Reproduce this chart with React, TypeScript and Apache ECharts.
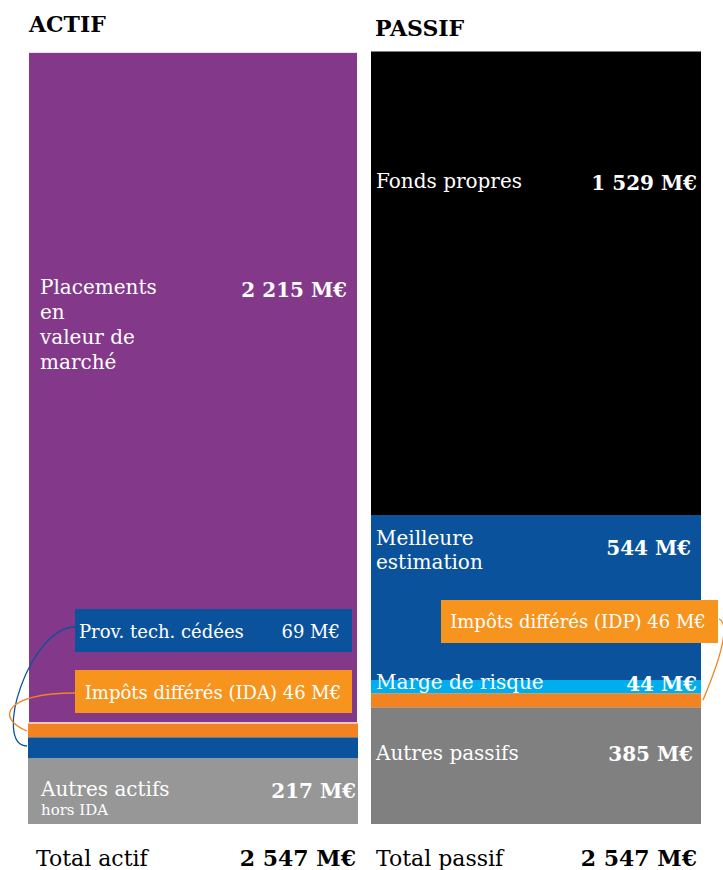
import React, { useEffect, useRef } from "react";
import * as echarts from "echarts";

const categories = ["ACTIF", "PASSIF"];
const actifNames = ["Autres actifs", "Prov. tech. cédées", "Impôts différés (IDA)", "Placements en valeur de marché"];
const actifValues = [217, 69, 46, 2215];
const passifNames = ["Autres passifs", "Impôts différés (IDP)", "Marge de risque", "Meilleure estimation", "Fonds propres"];
const passifValues = [385, 46, 44, 544, 1529];
const totalLabels = ["Total actif", "Total passif"];
const totalValues = [2547, 2547];

const actifColors = ["#979797", "#0a529c", "#f38321", "#843889"];
const passifColors = ["#808080", "#f38321", "#00aeef", "#0a529c", "#000000"];

const fmt = (v: number) => v.toString().replace(/\B(?=(\d{3})+(?!\d))/g, " ") + " M€";

const SERIF = '"DejaVu Serif", serif';

export default function App() {
  const ref = useRef<HTMLDivElement>(null);
  useEffect(() => {
    document.body.style.margin = "0";
    const chart = echarts.init(ref.current!, null, { renderer: "svg" });
    const series: any[] = [];
    actifNames.forEach((n, i) => {
      series.push({
        name: n,
        type: "bar",
        stack: "bilan",
        barWidth: 330,
        data: [actifValues[i], "-"],
        itemStyle: i === 3 ? { color: actifColors[i], borderColor: "#ffffff", borderWidth: 1 } : { color: actifColors[i] },
      });
    });
    passifNames.forEach((n, i) => {
      series.push({
        name: n,
        type: "bar",
        stack: "bilan",
        barWidth: 330,
        data: ["-", passifValues[i]],
        itemStyle: { color: passifColors[i] },
      });
    });

    const white = "#ffffff";
    const txt = (text: string, x: number, y: number, size: number, opts: any = {}) => ({
      type: "text",
      z: 10,
      style: {
        text,
        x,
        y,
        fill: opts.fill || white,
        fontSize: size,
        fontFamily: SERIF,
        fontWeight: opts.bold ? "bold" : "normal",
        align: opts.align || "left",
        verticalAlign: opts.va || "middle",
        lineHeight: opts.lh,
      },
    });

    const graphic: any[] = [
      txt(categories[0], 29, 24, 22, { bold: true, fill: "#000" }),
      txt(categories[1], 375, 28, 22, { bold: true, fill: "#000" }),
      // actif labels
      txt("Placements\nen\nvaleur de\nmarché", 40, 274, 20, { va: "top", lh: 25 }),
      txt(fmt(actifValues[3]), 347, 290, 20, { bold: true, align: "right" }),
      txt("Autres actifs", 41, 789, 20),
      txt("hors IDA", 41, 810, 15),
      txt(fmt(actifValues[0]), 356, 791, 20, { bold: true, align: "right" }),
      // boxes actif
      { type: "rect", z: 9, shape: { x: 75, y: 609, width: 277, height: 43 }, style: { fill: "#0a529c" } },
      txt(actifNames[1], 79, 631, 18),
      txt(fmt(actifValues[1]), 340, 631, 18, { align: "right" }),
      { type: "rect", z: 9, shape: { x: 75, y: 670, width: 277, height: 43 }, style: { fill: "#f7941e" } },
      txt(actifNames[2] + " " + fmt(actifValues[2]), 213, 692, 18, { align: "center" }),
      {
        type: "bezierCurve", z: 11,
        shape: { x1: 75, y1: 627, cpx1: 30, cpy1: 627, cpx2: -8, cpy2: 745, x2: 27, y2: 746 },
        style: { stroke: "#0a529c", lineWidth: 1.3, fill: "none" },
      },
      {
        type: "bezierCurve", z: 11,
        shape: { x1: 75, y1: 693, cpx1: 5, cpy1: 693, cpx2: -5, cpy2: 718, x2: 27, y2: 731 },
        style: { stroke: "#f38321", lineWidth: 1.3, fill: "none" },
      },
      // passif labels
      txt(passifNames[4], 376, 181, 20),
      txt(fmt(passifValues[4]), 697, 183, 20, { bold: true, align: "right" }),
      txt("Meilleure\nestimation", 376, 526, 20, { va: "top", lh: 24 }),
      txt(fmt(passifValues[3]), 691, 548, 20, { bold: true, align: "right" }),
      txt(passifNames[2], 376, 682, 20),
      txt(fmt(passifValues[2]), 697, 684, 20, { bold: true, align: "right" }),
      txt(passifNames[0], 376, 753, 20),
      txt(fmt(passifValues[0]), 693, 754, 20, { bold: true, align: "right" }),
      { type: "rect", z: 9, shape: { x: 441, y: 600, width: 277, height: 43 }, style: { fill: "#f7941e" } },
      txt(passifNames[1] + " " + fmt(passifValues[1]), 578, 621, 18, { align: "center" }),
      {
        type: "bezierCurve", z: 11,
        shape: { x1: 719, y1: 619, cpx1: 729, cpy1: 623, cpx2: 724, cpy2: 650, x2: 703, y2: 700 },
        style: { stroke: "#f38321", lineWidth: 1.3, fill: "none" },
      },
      // totals
      txt(totalLabels[0], 36, 858, 22, { fill: "#000" }),
      txt(fmt(totalValues[0]), 356, 858, 22, { bold: true, fill: "#000", align: "right" }),
      txt(totalLabels[1], 376, 858, 22, { fill: "#000" }),
      txt(fmt(totalValues[1]), 697, 858, 22, { bold: true, fill: "#000", align: "right" }),
    ];

    chart.setOption({
      animation: false,
      grid: { left: 21.5, right: 15.5, top: 51.5, bottom: 46 },
      xAxis: { type: "category", data: categories, show: false },
      yAxis: { type: "value", min: 0, max: 2548, show: false },
      series,
      graphic,
    });
    return () => chart.dispose();
  }, []);
  return <div ref={ref} style={{ width: 723, height: 870 }} />;
}
